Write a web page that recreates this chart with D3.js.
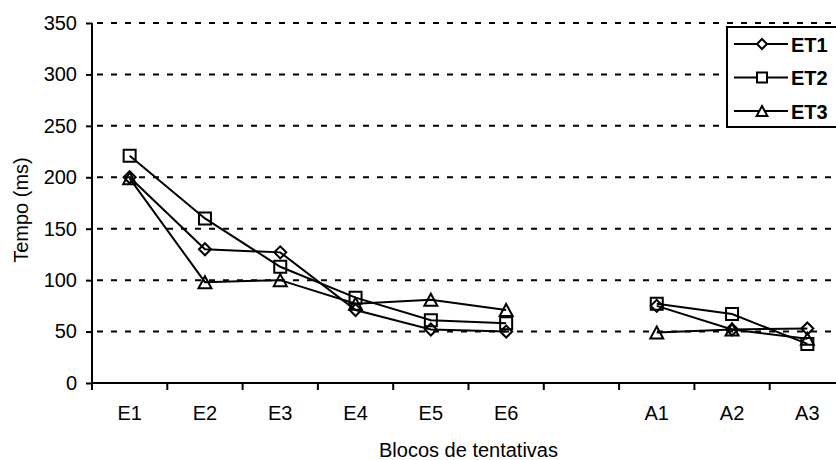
<!DOCTYPE html>
<html>
<head>
<meta charset="utf-8">
<script src="https://cdn.jsdelivr.net/npm/d3@7"></script>
<style>
  html, body { margin: 0; padding: 0; background: #fff; }
  svg { display: block; font-family: "Liberation Sans", Arial, sans-serif; }
</style>
</head>
<body>
<svg id="chart" width="836" height="460"></svg>
<script>
// Blocks of trials (one empty slot separates the E and A blocks)
const categories = ["E1", "E2", "E3", "E4", "E5", "E6", "", "A1", "A2", "A3"];
const yTicks = [0, 50, 100, 150, 200, 250, 300, 350];

// Mean time (ms) per block for each group
const seriesNames = ["ET1", "ET2", "ET3"];
const et1 = [200, 130, 127, 71, 52, 50, null, 75, 52, 53];
const et2 = [221, 160, 113, 83, 61, 58, null, 77, 67, 38];
const et3 = [199, 98, 100, 77, 81, 71, null, 49, 52, 43];
const seriesValues = [et1, et2, et3];
const markerShapes = ["diamond", "square", "triangle"];

const svg = d3.select("#chart");
const W = 836, H = 460;
const plotLeft = 92, plotRight = 845, plotTop = 23, plotBottom = 383;

const x = d3.scaleBand().domain(categories).range([plotLeft, plotRight]).padding(0);
const y = d3.scaleLinear().domain([0, 350]).range([plotBottom, plotTop]);

// Marker path generators (centred at 0,0)
function markerPath(shape, r) {
  if (shape === "diamond") return `M0,${-r}L${r},0L0,${r}L${-r},0Z`;
  if (shape === "square") return `M${-r},${-r}H${r}V${r}H${-r}Z`;
  return `M0,${-r}L${r * 1.08},${r}L${-r * 1.08},${r}Z`;
}

// Dashed horizontal gridlines
svg.append("g")
  .selectAll("line")
  .data(yTicks.filter(d => d > 0))
  .join("line")
  .attr("x1", plotLeft + 5).attr("x2", W)
  .attr("y1", d => y(d)).attr("y2", d => y(d))
  .attr("stroke", "#000")
  .attr("stroke-width", 2)
  .attr("stroke-dasharray", "6,8");

// Y axis
const yAxis = svg.append("g")
  .attr("transform", `translate(${plotLeft},0)`)
  .call(d3.axisLeft(y).tickValues(yTicks).tickSize(6).tickPadding(9).tickSizeOuter(0));
yAxis.select(".domain").attr("stroke-width", 2).attr("d", `M0,${plotBottom + 1}V${plotTop}`);
yAxis.selectAll(".tick line").attr("stroke-width", 2);
yAxis.selectAll("text").attr("font-size", 20).attr("fill", "#000")
  .attr("font-family", "Liberation Sans, Arial, sans-serif");

// X axis: labels centred in bands, tick marks at band boundaries
const xAxis = svg.append("g")
  .attr("transform", `translate(0,${plotBottom})`)
  .call(d3.axisBottom(x).tickSize(0).tickPadding(23).tickSizeOuter(0));
xAxis.select(".domain").attr("stroke-width", 2).attr("d", `M${plotLeft - 1},0H${W}`);
xAxis.selectAll("text").attr("font-size", 20).attr("fill", "#000")
  .attr("font-family", "Liberation Sans, Arial, sans-serif");

const boundaries = categories.map(c => x(c)).concat([x.range()[1]]);
svg.append("g")
  .selectAll("line")
  .data(boundaries)
  .join("line")
  .attr("x1", d => d).attr("x2", d => d)
  .attr("y1", plotBottom).attr("y2", plotBottom + 7)
  .attr("stroke", "#000")
  .attr("stroke-width", 2);

// Axis titles
svg.append("text")
  .attr("x", (plotLeft + plotRight) / 2).attr("y", 457)
  .attr("text-anchor", "middle")
  .attr("font-size", 20)
  .text("Blocos de tentativas");

svg.append("text")
  .attr("transform", `translate(28,210) rotate(-90)`)
  .attr("text-anchor", "middle")
  .attr("font-size", 20)
  .text("Tempo (ms)");

// Series lines and markers
const line = d3.line()
  .defined(d => d.v !== null)
  .x(d => x(d.c) + x.bandwidth() / 2)
  .y(d => y(d.v));

seriesValues.forEach((vals, i) => {
  const pts = categories.map((c, j) => ({ c, v: vals[j] }));
  const g = svg.append("g");
  g.append("path")
    .datum(pts)
    .attr("d", line)
    .attr("fill", "none")
    .attr("stroke", "#000")
    .attr("stroke-width", 2);
  g.selectAll("path.m")
    .data(pts.filter(d => d.v !== null))
    .join("path")
    .attr("class", "m")
    .attr("transform", d => `translate(${x(d.c) + x.bandwidth() / 2},${y(d.v)})`)
    .attr("d", markerPath(markerShapes[i], 6))
    .attr("fill", "none")
    .attr("stroke", "#000")
    .attr("stroke-width", 2);
});

// Legend
const legend = svg.append("g");
legend.append("rect")
  .attr("x", 727).attr("y", 27)
  .attr("width", 120).attr("height", 100)
  .attr("fill", "#fff")
  .attr("stroke", "#000")
  .attr("stroke-width", 2);

seriesNames.forEach((name, i) => {
  const cy = 44 + i * 33.5;
  legend.append("line")
    .attr("x1", 734).attr("x2", 788)
    .attr("y1", cy).attr("y2", cy)
    .attr("stroke", "#000").attr("stroke-width", 2);
  legend.append("path")
    .attr("transform", `translate(762,${cy})`)
    .attr("d", markerPath(markerShapes[i], 5))
    .attr("fill", "#fff")
    .attr("stroke", "#000").attr("stroke-width", 2);
  legend.append("text")
    .attr("x", 791).attr("y", cy + 7.5)
    .attr("font-size", 20)
    .attr("font-weight", "bold")
    .text(name);
});
</script>
</body>
</html>
